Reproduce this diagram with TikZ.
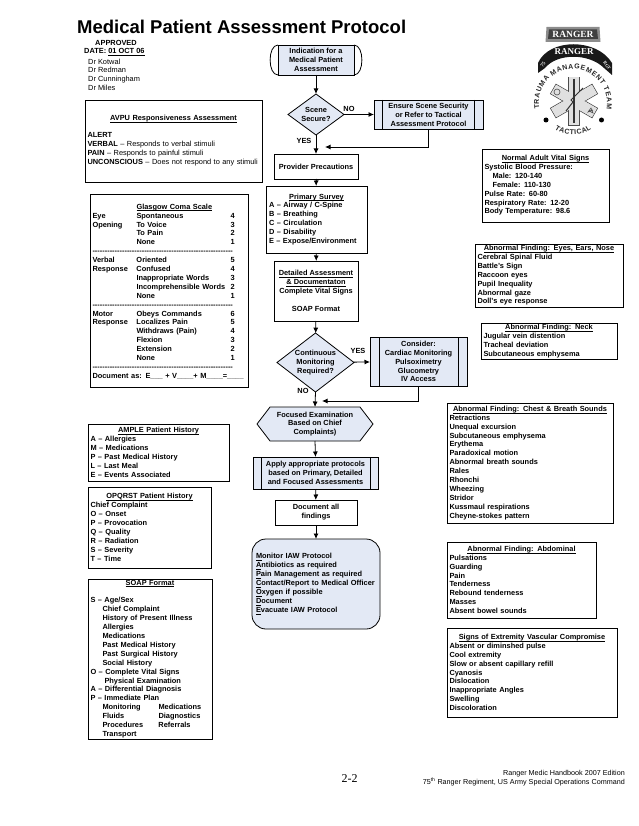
\documentclass[tikz,border=0pt]{standalone}
\usepackage{fontspec}
\setmainfont{Liberation Sans}
\newfontfamily\pagefont{Liberation Serif}
\usetikzlibrary{arrows.meta,shapes.geometric,shapes.symbols,decorations.text}
\definecolor{flowblue}{HTML}{E3E9F5}
\newcommand{\bodyfont}{\fontsize{7.4}{8.9}\selectfont\bfseries}
\newcommand{\plainfont}{\fontsize{7.4}{8.8}\selectfont}
\newcommand{\logofont}{\fontsize{7}{7}\selectfont\bfseries\color{black!85}}
\newcommand{\ulined}[1]{\underline{\smash{#1}}\vphantom{Ag}}
\newcommand{\panelhead}[1]{\makebox[\hsize]{\ulined{#1}}}
\newcommand{\hyten}{-{}-{}-{}-{}-{}-{}-{}-{}-{}-{}}
\newcommand{\gcsrule}{\multicolumn{3}{@{}l@{}}{\hyten\hyten\hyten\hyten\hyten-{}-{}-{}-{}-{}-{}-}\\}
\begin{document}
\begin{tikzpicture}
    [
        x=1pt,
        y=-1pt,
        panel/.style={rectangle, draw, fill=white, line width=0.8pt, inner xsep=2.5pt, inner ysep=0pt, align=left, font=\bodyfont},
        step box/.style={rectangle, draw, fill=white, line width=0.8pt, outer sep=0pt, inner sep=0pt, align=center, font=\bodyfont},
        blue box/.style={step box, fill=flowblue},
        decision/.style={diamond, draw, fill=flowblue, line width=0.8pt, outer sep=0pt, inner sep=0pt, align=center, font=\bodyfont},
        label text/.style={inner sep=0pt, font=\bodyfont},
        flow/.style={line width=0.8pt, -{Latex[length=5.5pt,width=5pt]}},
    ]
    \useasboundingbox (0,0) rectangle (638,826);

    \node (title) at (77,27) [anchor=west, inner sep=0pt, font=\fontsize{18.5}{22}\selectfont\bfseries] {Medical Patient Assessment Protocol};
    \node (approved) at (116,43) [label text] {APPROVED};
    \node (dated) at (84,52) [label text, anchor=west] {DATE: \ulined{01 OCT 06}};
    \node (doctors) at (88,58.5) [anchor=north west, inner sep=0pt, align=left, font=\plainfont] {Dr Kotwal\\Dr Redman\\Dr Cunningham\\Dr Miles};

    \node (avpu) at (173.5,141) [panel, text width=172pt, minimum height=82pt]
        {\panelhead{AVPU Responsiveness Assessment}\\[8pt]
         ALERT\\
         VERBAL {\mdseries -- Responds to verbal stimuli}\\
         PAIN {\mdseries -- Responds to painful stimuli}\\
         UNCONSCIOUS {\mdseries -- Does not respond to any stimuli}};
    \node (gcs) at (169,290.5) [panel, text width=153pt, minimum height=193pt]
        {\begin{tabular}{@{}p{44pt}@{}p{94pt}@{}l@{}}
         \rule{0pt}{9.2pt} & \ulined{Glasgow Coma Scale} & \\
         Eye & Spontaneous & 4\\
         Opening & To Voice & 3\\
         & To Pain & 2\\
         & None & 1\\
         \gcsrule
         Verbal & Oriented & 5\\
         Response & Confused & 4\\
         & Inappropriate Words & 3\\
         & Incomprehensible Words & 2\\
         & None & 1\\
         \gcsrule
         Motor & Obeys Commands & 6\\
         Response & Localizes Pain & 5\\
         & Withdraws (Pain) & 4\\
         & Flexion & 3\\
         & Extension & 2\\
         & None & 1\\
         \gcsrule
         \multicolumn{3}{@{}l@{}}{Document as: E\_\_\_ + V\_\_\_\_+ M\_\_\_\_=\_\_\_\_}
         \end{tabular}};
    \node (ample) at (158.5,452.5) [panel, text width=136pt, minimum height=57pt]
        {\panelhead{AMPLE Patient History}\\
         A -- Allergies\\M -- Medications\\P -- Past Medical History\\L -- Last Meal\\E -- Events Associated};
    \node (opqrst) at (149.5,527.5) [panel, text width=118pt, minimum height=81pt]
        {\panelhead{OPQRST Patient History}\\
         Chief Complaint\\O -- Onset\\P -- Provocation\\Q -- Quality\\R -- Radiation\\S -- Severity\\T -- Time};
    \node (soap) at (150,659) [panel, text width=119pt, minimum height=160pt]
        {\panelhead{SOAP Format}\\[8.9pt]
         S -- Age/Sex\\
         \hspace*{12pt}Chief Complaint\\
         \hspace*{12pt}History of Present Illness\\
         \hspace*{12pt}Allergies\\
         \hspace*{12pt}Medications\\
         \hspace*{12pt}Past Medical History\\
         \hspace*{12pt}Past Surgical History\\
         \hspace*{12pt}Social History\\
         O -- Complete Vital Signs\\
         \hspace*{14pt}Physical Examination\\
         A -- Differential Diagnosis\\
         P -- Immediate Plan\\
         \hspace*{12pt}\makebox[56pt][l]{Monitoring}Medications\\
         \hspace*{12pt}\makebox[56pt][l]{Fluids}Diagnostics\\
         \hspace*{12pt}\makebox[56pt][l]{Procedures}Referrals\\
         \hspace*{12pt}Transport};

    \node (indication) at (316,60) [blue box, minimum width=76pt, minimum height=30pt] {Indication for a\\Medical Patient\\Assessment};
    \draw [line width=0.8pt] (indication.north west) to [out=180, in=180, looseness=0.9] (indication.south west);
    \draw [line width=0.8pt] (indication.north east) to [out=0, in=0, looseness=0.9] (indication.south east);
    \node (scene) at (316,114.5) [decision, aspect=1.35, minimum width=56pt, minimum height=41pt] {Scene\\Secure?};
    \node (ensure) at (428.5,114.5) [blue box, minimum width=109pt, minimum height=29pt] {Ensure Scene Security\\or Refer to Tactical\\Assessment Protocol};
    \draw [line width=0.8pt] ([xshift=8pt]ensure.north west) -- ([xshift=8pt]ensure.south west);
    \draw [line width=0.8pt] ([xshift=-9pt]ensure.north east) -- ([xshift=-9pt]ensure.south east);
    \node (precautions) at (316,166.5) [step box, minimum width=84pt, minimum height=25pt] {Provider Precautions};
    \node (primary) at (316.5,219.5) [step box, minimum width=101pt, minimum height=67pt, text width=95pt, align=left]
        {\panelhead{Primary Survey}\\A -- Airway / C-Spine\\B -- Breathing\\C -- Circulation\\D -- Disability\\E -- Expose/Environment};
    \node (detailed) at (316,291) [step box, minimum width=84pt, minimum height=60pt] {\ulined{Detailed Assessment}\\\ulined{\& Documentaton}\\Complete Vital Signs\\[8.9pt]SOAP Format};
    \node (continuous) at (315.5,362.5) [decision, aspect=1.3, minimum width=77pt, minimum height=59pt] {Continuous\\Monitoring\\Required?};
    \node (consider) at (418.5,361.5) [blue box, minimum width=97pt, minimum height=49pt] {Consider:\\Cardiac Monitoring\\Pulsoximetry\\Glucometry\\IV Access};
    \draw [line width=0.8pt] ([xshift=9pt]consider.north west) -- ([xshift=9pt]consider.south west);
    \draw [line width=0.8pt] ([xshift=-9pt]consider.north east) -- ([xshift=-9pt]consider.south east);
    \node (focused) at (315,424) [signal, signal to=west and east, signal pointer angle=105, draw, fill=flowblue, line width=0.8pt, outer sep=0pt, inner sep=0pt, align=center, font=\bodyfont, minimum width=116pt, minimum height=34pt] {Focused Examination\\Based on Chief\\Complaints)};
    \node (apply) at (315.5,473) [blue box, minimum width=125pt, minimum height=32pt] {Apply appropriate protocols\\based on Primary, Detailed\\and Focused Assessments};
    \draw [line width=0.8pt] ([xshift=8pt]apply.north west) -- ([xshift=8pt]apply.south west);
    \draw [line width=0.8pt] ([xshift=-8pt]apply.north east) -- ([xshift=-8pt]apply.south east);
    \node (record) at (316,512.5) [step box, minimum width=82pt, minimum height=25pt] {Document all\\findings};
    \node (orders) at (316,584) [blue box, rounded corners=14pt, minimum width=128pt, minimum height=90pt, text width=120pt, align=left]
        {\ulined{M}onitor IAW Protocol\\\ulined{A}ntibiotics as required\\\ulined{P}ain Management as required\\\ulined{C}ontact/Report to Medical Officer\\\ulined{O}xygen if possible\\\ulined{D}ocument\\\ulined{E}vacuate IAW Protocol};

    \coordinate (precautionsjoin) at (325,147);
    \coordinate (focusedjoin) at (322,401);
    \draw [flow] (indication) -- (scene);
    \draw [flow] (scene) -- (ensure);
    \draw [flow] (scene) -- (precautions);
    \draw [flow] (ensure.south) |- (precautionsjoin);
    \draw [flow] (precautions) -- (primary);
    \draw [flow] (primary) -- (detailed);
    \draw [flow] (detailed) -- (continuous);
    \draw [flow] (continuous) -- (consider);
    \draw [flow] (continuous.south) -- (focused.north);
    \draw [flow] (consider.south) |- (focusedjoin);
    \draw [flow] (focused.south) -- (apply.north);
    \draw [flow] (apply) -- (record);
    \draw [flow] (record) -- (orders);

    \node (nolabela) at (349,109) [label text] {NO};
    \node (yeslabela) at (304,141) [label text] {YES};
    \node (yeslabelb) at (358,351) [label text] {YES};
    \node (nolabelb) at (303,391) [label text] {NO};

    \node (vitals) at (545.5,185.5) [panel, text width=122pt, minimum height=73pt]
        {\panelhead{Normal Adult Vital Signs}\\
         Systolic Blood Pressure:\\
         \hspace*{8pt}Male: 120-140\\
         \hspace*{8pt}Female: 110-130\\
         Pulse Rate: 60-80\\
         Respiratory Rate: 12-20\\
         Body Temperature: 98.6};
    \node (eyes) at (549,275.5) [panel, text width=143pt, minimum height=63pt]
        {\panelhead{Abnormal Finding: Eyes, Ears, Nose}\\
         Cerebral Spinal Fluid\\Battle's Sign\\Raccoon eyes\\Pupil Inequality\\Abnormal gaze\\Doll's eye response};
    \node (neck) at (549,341) [panel, text width=131pt, minimum height=36pt]
        {\panelhead{Abnormal Finding: Neck}\\
         Jugular vein distention\\Tracheal deviation\\Subcutaneous emphysema};
    \node (chest) at (530,463) [panel, text width=161pt, minimum height=120pt]
        {\panelhead{Abnormal Finding: Chest \& Breath Sounds}\\
         Retractions\\Unequal excursion\\Subcutaneous emphysema\\Erythema\\Paradoxical motion\\Abnormal breath sounds\\Rales\\Rhonchi\\Wheezing\\Stridor\\Kussmaul respirations\\Cheyne-stokes pattern};
    \node (abdominal) at (521.5,580) [panel, text width=144pt, minimum height=76pt]
        {\panelhead{Abnormal Finding: Abdominal}\\
         Pulsations\\Guarding\\Pain\\Tenderness\\Rebound tenderness\\Masses\\Absent bowel sounds};
    \node (vascular) at (532,672.5) [panel, text width=165pt, minimum height=89pt]
        {\panelhead{Signs of Extremity Vascular Compromise}\\
         Absent or diminshed pulse\\Cool extremity\\Slow or absent capillary refill\\Cyanosis\\Dislocation\\Inappropriate Angles\\Swelling\\Discoloration};

    \node (pagenum) at (349.5,779) [inner sep=0pt, font=\fontsize{12}{14}\pagefont\selectfont] {2-2};
    \node (edition) at (625,770.5) [anchor=north east, inner sep=0pt, align=right, font=\fontsize{7.2}{8.8}\selectfont]
        {Ranger Medic Handbook 2007 Edition\\75\textsuperscript{th} Ranger Regiment, US Army Special Operations Command};

    \begin{scope}[shift={(573,103)}, y=1pt]
        \fill [black!45] (-26.5,76) -- (26.5,76) -- (27.5,61) -- (-27.5,61) -- cycle;
        \fill [black!75] (-24,73.5) -- (24,73.5) -- (25,64) -- (-25,64) -- cycle;
        \node (tabname) at (0,68.5) [inner sep=0pt, text=white, font=\fontsize{9.5}{10}\pagefont\bfseries\selectfont] {RANGER};
        \fill [black!90] (-35,40) .. controls (-24,65) and (24,65) .. (39,40) -- (39,28) -- (31,35) .. controls (16,50) and (-16,50) .. (-28,35) -- (-35,30) -- cycle;
        \node (scrollname) at (1,51) [inner sep=0pt, text=white, font=\fontsize{9}{10}\pagefont\bfseries\selectfont] {RANGER};
        \node (scrollleft) at (-30,38.5) [inner sep=0pt, rotate=55, text=white, font=\fontsize{5}{6}\pagefont\bfseries\selectfont] {75};
        \node (scrollright) at (34,37.5) [inner sep=0pt, rotate=-55, text=white, font=\fontsize{4.5}{6}\pagefont\bfseries\selectfont] {RGT};
        \path [decorate, decoration={text along path, text={|\logofont|TRAUMA MANAGEMENT TEAM}, text align={fit to path}}] (190:34) arc (190:-10:34);
        \path [decorate, decoration={text along path, text={|\logofont|TACTICAL}, text align={fit to path}}] (235:32) arc (235:305:32);
        \foreach \ang in {0,60,120}
            \draw [rotate around={\ang:(1,2)}, black!70, line width=0.8pt] (-4.5,-22) rectangle (6.5,26);
        \foreach \ang in {0,60,120}
            \fill [rotate around={\ang:(1,2)}, black!12] (-4.1,-21.6) rectangle (6.1,25.6);
        \draw [black!80, line width=1.2pt] (1,24) -- (1,-20);
        \draw [black!80, line width=1pt] (-7,-8) -- (0,1) -- (-2,3) -- (10,15);
        \draw [black!70, line width=0.6pt] (-16,11) circle (3);
        \draw [black!70, line width=0.6pt] (16,-8) -- (20,-10) -- (18,-5) -- (15,-9) -- (20,-7) -- cycle;
        \fill [black] (-27,-17) circle (2.5);
        \fill [black] (28.5,-17) circle (2.5);
    \end{scope}
\end{tikzpicture}
\end{document}
